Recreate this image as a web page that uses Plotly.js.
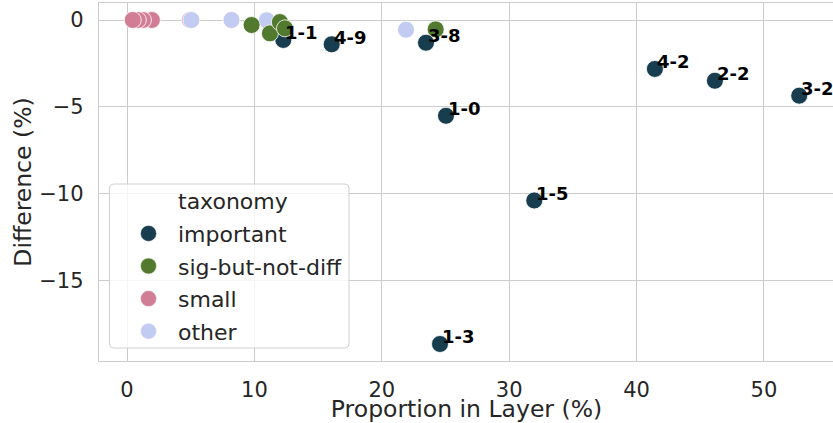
<!DOCTYPE html>
<html><head><meta charset="utf-8">
<script src="https://cdn.plot.ly/plotly-3.0.1.min.js"></script>
<style>html,body{margin:0;padding:0;overflow:hidden;background:#fff}#chart{width:835px;height:423px}</style>
</head><body><div id="chart"></div>
<script>
const categories = ['important', 'sig-but-not-diff', 'small', 'other'];
const categoryColors = ['#173d4e', '#527a2e', '#d27d96', '#c2cbf2'];

// rows in drawing order
const taxonomy = ['small','small','small','small','small',
  'other','other','other','other',
  'important',
  'sig-but-not-diff','sig-but-not-diff','sig-but-not-diff','sig-but-not-diff','sig-but-not-diff',
  'important','important','important','important','important','important','important','important'];
const proportion = [1.95, 1.25, 0.85, 0.45, 4.95,
  5.05, 8.2, 10.97, 21.9,
  12.27,
  9.78, 11.22, 12.0, 12.4, 24.23,
  23.47, 16.07, 25.04, 24.57, 31.97, 41.44, 46.15, 52.77];
const difference = [0, 0, 0, 0, 0,
  0, 0, -0.02, -0.56,
  -1.15,
  -0.29, -0.77, -0.12, -0.48, -0.54,
  -1.31, -1.4, -5.52, -18.67, -10.4, -2.82, -3.5, -4.36];
const layerLabel = ['', '', '', '', '',
  '', '', '', '',
  '1-1',
  '', '', '', '', '',
  '3-8', '4-9', '1-0', '1-3', '1-5', '4-2', '2-2', '3-2'];

const xTickValues = [0, 10, 20, 30, 40, 50];
const yTickValues = [-15, -10, -5, 0];

const colorOf = c => categoryColors[categories.indexOf(c)];

const traces = [{
  type: 'scatter', mode: 'markers', x: proportion, y: difference,
  marker: {size: 17, color: taxonomy.map(colorOf), line: {color: '#ffffff', width: 0.8}},
  showlegend: false, hoverinfo: 'skip'
}];
// legend header entry (like seaborn)
traces.push({type: 'scatter', mode: 'markers', x: [null], y: [null], name: 'taxonomy',
  legendgroup: 'g0', marker: {size: 16, color: 'rgba(0,0,0,0)'}});
categories.forEach((c, i) => traces.push({
  type: 'scatter', mode: 'markers', x: [null], y: [null], name: c,
  legendgroup: 'g' + (i + 1),
  marker: {size: 16, color: categoryColors[i], line: {color: '#ffffff', width: 0.5}}
}));

const annotations = [];
layerLabel.forEach((t, i) => {
  if (!t) return;
  annotations.push({x: proportion[i], y: difference[i], text: t, showarrow: false,
    xanchor: 'left', yanchor: 'middle', yshift: 7, xshift: 0,
    font: {family: 'DejaVu Sans', size: 18, color: '#000000', weight: 'bold'}});
});

// rounded legend frame (paper coords)
const W = 835, H = 423, ML = 99, MR = 1, MT = 3, MB = 62;
const pw = W - ML - MR, ph = H - MT - MB;
function px2x(p) { return (p - ML) / pw; }
function px2y(p) { return (H - MB - p) / ph; }
function roundRect(l, t, r, b, rad) {
  const x0 = px2x(l), x1 = px2x(r), y0 = px2y(b), y1 = px2y(t);
  const rx = rad / pw, ry = rad / ph;
  return `M ${x0 + rx} ${y1} L ${x1 - rx} ${y1} Q ${x1} ${y1} ${x1} ${y1 - ry} ` +
    `L ${x1} ${y0 + ry} Q ${x1} ${y0} ${x1 - rx} ${y0} L ${x0 + rx} ${y0} ` +
    `Q ${x0} ${y0} ${x0} ${y0 + ry} L ${x0} ${y1 - ry} Q ${x0} ${y1} ${x0 + rx} ${y1} Z`;
}

const layout = {
  width: W, height: H,
  margin: {l: ML, r: MR, t: MT, b: MB},
  paper_bgcolor: '#ffffff', plot_bgcolor: '#ffffff',
  font: {family: 'DejaVu Sans', color: '#262626', size: 22},
  showlegend: true,
  xaxis: {
    range: [-2.2, 55.5], tickvals: xTickValues, ticks: '', showgrid: true,
    gridcolor: '#cccccc', gridwidth: 1, zeroline: false, showline: true, linecolor: '#cccccc',
    linewidth: 1.2, mirror: true, tickfont: {size: 21, color: '#262626'},
    ticklabelstandoff: 10,
    title: {text: 'Proportion in Layer (%)', font: {size: 23.5, color: '#262626'}, standoff: 12}
  },
  yaxis: {
    range: [-19.65, 0.98], tickvals: yTickValues, ticks: '', showgrid: true,
    gridcolor: '#cccccc', gridwidth: 1, zeroline: false, showline: true, linecolor: '#cccccc',
    linewidth: 1.2, mirror: true, tickfont: {size: 21, color: '#262626'},
    ticklabelstandoff: 10,
    title: {text: 'Difference (%)', font: {size: 23.5, color: '#262626'}, standoff: 1}
  },
  shapes: [{type: 'path', xref: 'paper', yref: 'paper', layer: 'above',
    path: roundRect(109.5, 184, 349, 348, 4),
    fillcolor: 'rgba(255,255,255,0.8)', line: {color: '#d0d0d0', width: 1}}],
  legend: {
    x: px2x(119), y: px2y(180), xanchor: 'left', yanchor: 'top',
    bgcolor: 'rgba(0,0,0,0)', borderwidth: 0,
    font: {size: 22, color: '#262626'}, tracegroupgap: 1, itemwidth: 49
  },
  annotations: annotations
};

Plotly.newPlot('chart', traces, layout, {displayModeBar: false, staticPlot: true});
</script></body></html>
